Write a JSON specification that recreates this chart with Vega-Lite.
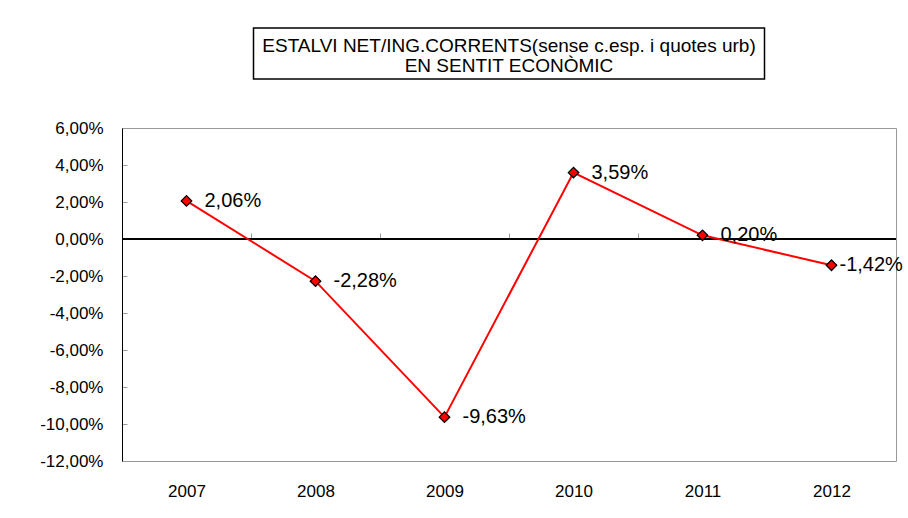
{
  "$schema": "https://vega.github.io/schema/vega-lite/v6.json",
  "background": "white",
  "padding": {"left": 39, "top": 27, "right": 0, "bottom": 10},
  "bounds": "flush",
  "center": true,
  "spacing": 49,
  "config": {
    "font": "Liberation Sans",
    "locale": {"number": {"decimal": ",", "thousands": ".", "grouping": [3], "currency": ["", " €"], "minus": "-"}},
    "view": {"stroke": "#999999"}
  },
  "vconcat": [
    {
      "width": 511,
      "height": 51,
      "data": {"values": [{"t": 1}]},
      "view": {"stroke": "black", "strokeWidth": 1.5},
      "mark": {
        "type": "text",
        "text": ["ESTALVI NET/ING.CORRENTS(sense c.esp. i quotes urb)", "EN SENTIT ECONÒMIC"],
        "fontSize": 19,
        "lineHeight": 20,
        "dy": -8,
        "color": "black"
      },
      "encoding": {}
    },
    {
      "width": 774,
      "height": 333,
      "data": {
        "values": [
          {"year": "2007", "value": 0.0206},
          {"year": "2008", "value": -0.0228},
          {"year": "2009", "value": -0.0963},
          {"year": "2010", "value": 0.0359},
          {"year": "2011", "value": 0.0020},
          {"year": "2012", "value": -0.0142}
        ]
      },
      "encoding": {
        "y": {
          "field": "value",
          "type": "quantitative",
          "scale": {"domain": [-0.12, 0.06], "nice": false},
          "axis": {
            "title": null,
            "format": ".2%",
            "values": [-0.12, -0.1, -0.08, -0.06, -0.04, -0.02, 0, 0.02, 0.04, 0.06],
            "grid": false,
            "domainColor": "black",
            "tickColor": "#999999",
            "tickSize": -5,
            "labelPadding": 24,
            "labelFontSize": 17,
            "labelColor": "black"
          }
        }
      },
      "resolve": {"scale": {"x": "independent"}, "axis": {"x": "independent"}},
      "layer": [
        {
          "encoding": {
            "x": {
              "field": "year",
              "type": "ordinal",
              "scale": {"type": "point", "padding": 0.5},
              "axis": {"title": null, "orient": "bottom", "ticks": false, "domain": false, "labelPadding": 22, "labelFontSize": 17, "labelAngle": 0, "labelColor": "black"}
            }
          },
          "layer": [
            {
              "mark": {"type": "rule", "color": "black", "strokeWidth": 1},
              "encoding": {"y": {"datum": 0}, "x": null}
            },
            {
              "mark": {"type": "line", "color": "red", "strokeWidth": 2}
            },
            {
              "mark": {"type": "point", "shape": "diamond", "filled": true, "fill": "red", "stroke": "black", "strokeWidth": 1.3, "size": 110, "opacity": 1}
            },
            {
              "transform": [{"filter": "datum.year != '2012'"}],
              "mark": {"type": "text", "align": "left", "baseline": "middle", "dx": 18, "fontSize": 20, "color": "black"},
              "encoding": {"text": {"field": "value", "type": "quantitative", "format": ".2%"}}
            },
            {
              "transform": [{"filter": "datum.year == '2012'"}],
              "mark": {"type": "text", "align": "left", "baseline": "middle", "dx": 8, "fontSize": 20, "color": "black"},
              "encoding": {"text": {"field": "value", "type": "quantitative", "format": ".2%"}}
            }
          ]
        },
        {
          "mark": {"type": "point", "opacity": 0},
          "encoding": {
            "x": {
              "field": "year",
              "type": "ordinal",
              "scale": {"type": "band", "paddingInner": 0, "paddingOuter": 0},
              "axis": {"title": null, "orient": "bottom", "offset": -223, "labels": false, "domain": false, "tickColor": "#999999", "tickSize": -5, "bandPosition": 0}
            }
          }
        }
      ]
    }
  ]
}
